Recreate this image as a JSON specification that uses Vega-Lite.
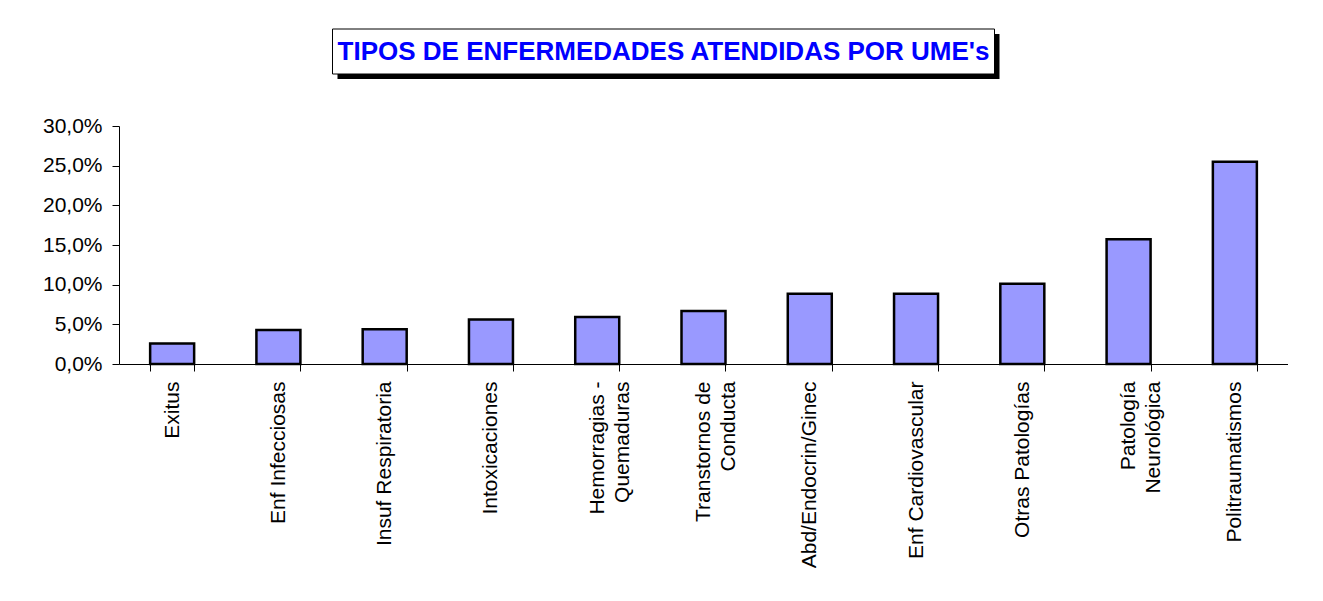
{
  "$schema": "https://vega.github.io/schema/vega-lite/v6.json",
  "padding": {"left": 42, "top": 28, "right": 0, "bottom": 0},
  "background": "white",
  "config": {
    "view": {"stroke": null},
    "font": "Liberation Sans",
    "concat": {"spacing": 36}
  },
  "center": true,
  "vconcat": [
    {
      "width": 662,
      "height": 45,
      "data": {"values": [{"title": "TIPOS DE ENFERMEDADES ATENDIDAS POR UME's"}]},
      "layer": [
        {
          "mark": {"type": "rect", "color": "black", "xOffset": -35, "yOffset": 5, "x2Offset": -35, "y2Offset": 5},
          "encoding": {"x": {"value": 0}, "x2": {"value": "width"}, "y": {"value": 0}, "y2": {"value": "height"}}
        },
        {
          "mark": {"type": "rect", "fill": "white", "stroke": "black", "strokeWidth": 1, "xOffset": -40, "x2Offset": -40},
          "encoding": {"x": {"value": 0}, "x2": {"value": "width"}, "y": {"value": 0}, "y2": {"value": "height"}}
        },
        {
          "mark": {"type": "text", "font": "Liberation Sans", "fontWeight": "bold", "fontSize": 26, "color": "#0000FF", "xOffset": -40},
          "encoding": {"text": {"field": "title"}}
        }
      ]
    },
    {
      "width": 1169,
      "height": 238,
      "data": {
        "values": [
          {"tipo": "Exitus", "pct": 0.0257},
          {"tipo": "Enf Infecciosas", "pct": 0.0428},
          {"tipo": "Insuf Respiratoria", "pct": 0.0439},
          {"tipo": "Intoxicaciones", "pct": 0.0560},
          {"tipo": "Hemorragias - Quemaduras", "pct": 0.0594},
          {"tipo": "Transtornos de Conducta", "pct": 0.0669},
          {"tipo": "Abd/Endocrin/Ginec", "pct": 0.0884},
          {"tipo": "Enf Cardiovascular", "pct": 0.0886},
          {"tipo": "Otras Patologías", "pct": 0.1010},
          {"tipo": "Patología Neurológica", "pct": 0.1573},
          {"tipo": "Politraumatismos", "pct": 0.2548}
        ]
      },
      "mark": {"type": "bar", "fill": "#9999FF", "stroke": "black", "strokeWidth": 2.5},
      "encoding": {
        "x": {
          "field": "tipo",
          "type": "nominal",
          "sort": null,
          "scale": {"paddingInner": 0.586, "paddingOuter": 0.293},
          "axis": {
            "title": null,
            "labelAngle": -90,
            "labelFontSize": 21,
            "labelColor": "black",
            "labelFont": "Liberation Sans",
            "labelLimit": 400,
            "labelLineHeight": 25,
            "labelPadding": 10,
            "tickSize": 7,
            "tickColor": "black",
            "domainColor": "black",
            "tickBand": "extent",
            "labelExpr": "datum.label == 'Hemorragias - Quemaduras' ? ['Hemorragias -', 'Quemaduras'] : datum.label == 'Transtornos de Conducta' ? ['Transtornos de', 'Conducta'] : datum.label == 'Patología Neurológica' ? ['Patología', 'Neurológica'] : datum.label"
          }
        },
        "y": {
          "field": "pct",
          "type": "quantitative",
          "scale": {"domain": [0, 0.3]},
          "axis": {
            "title": null,
            "grid": false,
            "values": [0, 0.05, 0.1, 0.15, 0.2, 0.25, 0.3],
            "labelExpr": "replace(format(datum.value, '.1%'), '.', ',')",
            "labelFontSize": 21,
            "labelColor": "black",
            "labelFont": "Liberation Sans",
            "labelPadding": 10,
            "tickSize": 7,
            "tickColor": "black",
            "domainColor": "black"
          }
        }
      }
    }
  ]
}
